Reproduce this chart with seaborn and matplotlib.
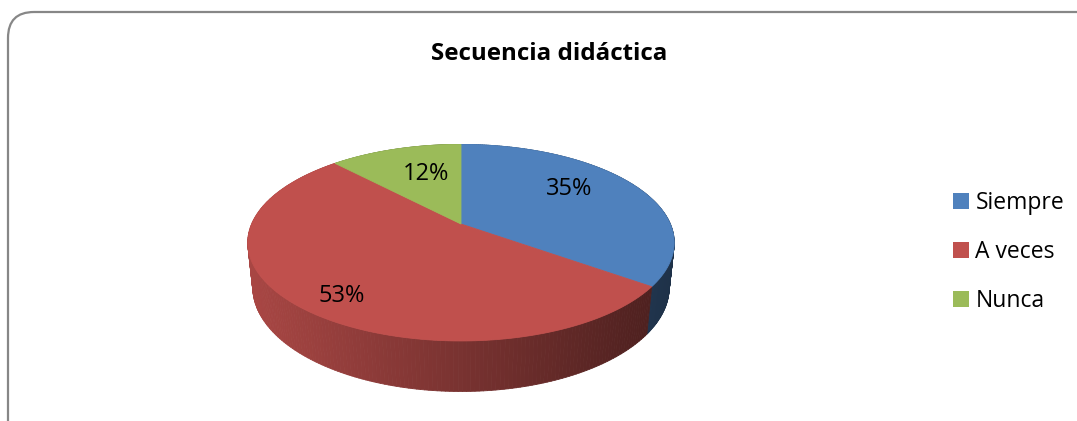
import numpy as np
import matplotlib
matplotlib.use("Agg")
import matplotlib.pyplot as plt
import seaborn as sns
from matplotlib.patches import FancyBboxPatch, Patch
from matplotlib.collections import PolyCollection

sns.set_style("white")
plt.rcParams['font.family'] = ['Open Sans', 'DejaVu Sans']

# datos
categorias = ["Siempre", "A veces", "Nunca"]
porcentajes = [35, 53, 12]
colores = sns.color_palette(["#4F81BD", "#C0504D", "#9BBB59"])
titulo = "Secuencia didáctica"

# vista 3D (perspectiva tipo Excel)
cx, cy = 461, 224
alpha = np.radians(26.9)
s, c = np.sin(alpha), np.cos(alpha)
D = 5.26 * c
F = 982
h = 0.24


def proj(t, r=1.0, z=0.0):
    t = np.radians(t)
    X, Y = r * np.cos(t), r * np.sin(t)
    v = Y * s + z * c
    w = D + Y * c - z * s
    return cx + F * X / w, cy - F * v / w


fig = plt.figure(figsize=(10.77, 4.21), dpi=100)
ax = fig.add_axes([0, 0, 1, 1])
ax.set_xlim(0, 1077)
ax.set_ylim(421, 0)
ax.axis("off")

# marco redondeado
ax.add_patch(FancyBboxPatch((8, 12), 1100, 460, boxstyle="round,pad=0,rounding_size=26",
                            facecolor="none", edgecolor="#878787", lw=1.6))

# angulos de cada porcion (desde las 12, sentido horario)
cum = np.concatenate([[0], np.cumsum(porcentajes)])
t_ini = 90 - 3.6 * cum[:-1]
t_fin = 90 - 3.6 * cum[1:]

# pared lateral
quads, qcols, depth = [], [], []
for i in range(len(porcentajes)):
    ts = np.linspace(t_ini[i], t_fin[i], 200)
    base = np.array(colores[i])
    for a, b in zip(ts[:-1], ts[1:]):
        p1 = proj(a); p2 = proj(b)
        p3 = proj(b, z=-h); p4 = proj(a, z=-h)
        xm = (p1[0] + p2[0]) / 2
        f = np.clip(0.88 - 0.5 * (xm - 248) / (675 - 248), 0.35, 0.9)
        quads.append([p1, p2, p3, p4])
        qcols.append(base * f)
        depth.append(np.sin(np.radians((a + b) / 2)))
order = np.argsort(depth)[::-1]
ax.add_collection(PolyCollection([quads[k] for k in order], facecolors=[qcols[k] for k in order],
                                 edgecolors=[qcols[k] for k in order], linewidths=0.6))

# cara superior
for i in range(len(porcentajes)):
    ts = np.linspace(t_ini[i], t_fin[i], 200)
    xs, ys = proj(ts)
    x0, y0 = proj(0, r=0)
    ax.fill(np.r_[x0, xs], np.r_[y0, ys], color=colores[i], lw=0.6, ec=colores[i])

# etiquetas de porcentaje (ajuste fino en pixeles, por categoria)
ajustes = {"Siempre": (2, -10), "A veces": (-28, 25), "Nunca": (7, -2)}
for i, p in enumerate(porcentajes):
    mid = (t_ini[i] + t_fin[i]) / 2
    x, y = proj(mid, r=0.6)
    dx, dy = ajustes[categorias[i]]
    ax.text(x + dx, y + dy, f"{p}%", ha="center", va="center", fontsize=17, color="black")

ax.text(549, 59.5, titulo, ha="center", va="baseline", fontsize=17.4,
        fontweight="bold", color="black")

handles = [Patch(facecolor=col, edgecolor="none") for col in colores]
leg = ax.legend(handles, categorias, loc="center left", bbox_to_anchor=(953, 252),
                bbox_transform=ax.transData, frameon=False, fontsize=16.5,
                handlelength=0.68, handleheight=0.68, handletextpad=0.3,
                labelspacing=1.1, borderpad=0, borderaxespad=0)
for t in leg.get_texts():
    t.set_color("black")

fig.savefig("out.png", dpi=100)
